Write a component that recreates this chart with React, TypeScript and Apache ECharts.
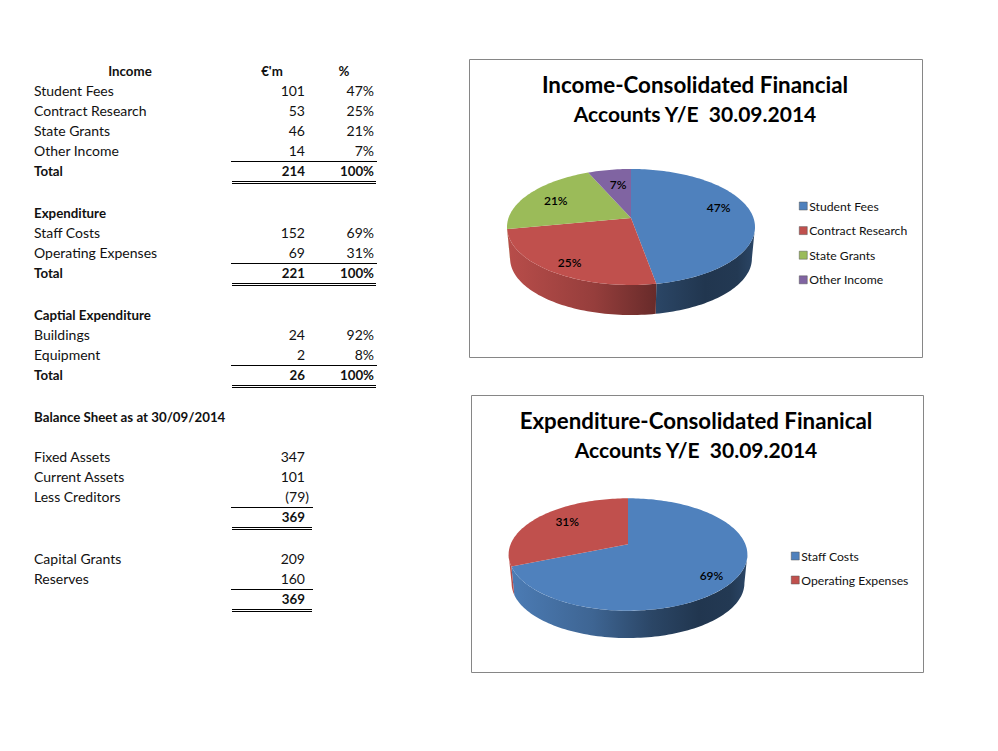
import React, { useEffect, useRef } from "react";
import * as echarts from "echarts";

// ---------- data ----------
const incomeNames = ["Student Fees", "Contract Research", "State Grants", "Other Income"];
const incomeValues = [101, 53, 46, 14];
const incomePercents = ["47%", "25%", "21%", "7%"];
const incomeColors = ["#4f81bd", "#c0504d", "#9bbb59", "#8064a2"];

const expenditureNames = ["Staff Costs", "Operating Expenses"];
const expenditureValues = [152, 69];
const expenditurePercents = ["69%", "31%"];
const expenditureColors = ["#4f81bd", "#c0504d"];

const incomeTitleLines = ["Income-Consolidated Financial", "Accounts Y/E  30.09.2014"];
const expenditureTitleLines = ["Expenditure-Consolidated Finanical", "Accounts Y/E  30.09.2014"];

// label, amount, percent, row y, style: b = bold
const tableRows: [string, string, string, number, boolean][] = [
  ["Student Fees", "101", "47%", 91, false],
  ["Contract Research", "53", "25%", 111, false],
  ["State Grants", "46", "21%", 131, false],
  ["Other Income", "14", "7%", 151, false],
  ["Total", "214", "100%", 171, true],
  ["Expenditure", "", "", 213, true],
  ["Staff Costs", "152", "69%", 233, false],
  ["Operating Expenses", "69", "31%", 253, false],
  ["Total", "221", "100%", 273, true],
  ["Captial Expenditure", "", "", 315, true],
  ["Buildings", "24", "92%", 335, false],
  ["Equipment", "2", "8%", 355, false],
  ["Total", "26", "100%", 375, true],
  ["Balance Sheet as at 30/09/2014", "", "", 417, true],
  ["Fixed Assets", "347", "", 457, false],
  ["Current Assets", "101", "", 477, false],
  ["Less Creditors", "(79)", "", 497, false],
  ["", "369", "", 517, true],
  ["Capital Grants", "209", "", 559, false],
  ["Reserves", "160", "", 579, false],
  ["", "369", "", 599, true],
];
const singleRules: [number, number, number][] = [
  [161, 231, 377], [263, 231, 377], [365, 231, 377], [507, 231, 313], [589, 231, 313],
];
const doubleRules: [number, number, number][] = [
  [181, 232, 376], [283, 232, 376], [385, 232, 376], [527, 232, 312], [609, 232, 312],
];

// ---------- 3D pie geometry ----------
interface Pie3D {
  cx: number; cy: number; w: number; a: number; c: number; depth: number; inset: number;
}
const pie1: Pie3D = { cx: 631, cy: 218, w: 122.5, a: 56.6, c: -0.155, depth: 31.7, inset: 0.975 };
const pie2: Pie3D = { cx: 628, cy: 544.3, w: 117.4, a: 54.35, c: -0.1815, depth: 29, inset: 0.975 };
const incomeNudges: [number, number][] = [[3, -7], [-8, 9], [-3, 0], [3, 2]];
const expenditureNudges: [number, number][] = [[10, 8], [3, -3]];

const project = (p: Pie3D, deg: number, r = 1, base = false) => {
  const t = (deg * Math.PI) / 180;
  const X = Math.sin(t) * r;
  const Y = -Math.cos(t) * r;
  const d = 1 + p.c * Y;
  const s = base ? p.inset : 1;
  return [p.cx + (s * p.w * X) / d, p.cy + (base ? p.depth : 0) + (s * p.a * Y) / d];
};

const shade = (hex: string, f: number) => {
  const n = parseInt(hex.slice(1), 16);
  const ch = (v: number) => Math.round(v * f);
  return `rgb(${ch((n >> 16) & 255)},${ch((n >> 8) & 255)},${ch(n & 255)})`;
};

const arc = (from: number, to: number) => {
  const out: number[] = [];
  const steps = Math.max(2, Math.ceil(Math.abs(to - from) / 1.5));
  for (let i = 0; i <= steps; i++) out.push(from + ((to - from) * i) / steps);
  return out;
};

const sliceSeries = (
  names: string[], values: number[], percents: string[], colors: string[],
  p: Pie3D, nudges: [number, number][],
) => {
  const total = values.reduce((s, v) => s + v, 0);
  let cum = 0;
  return names.map((name, i) => {
    const start = (cum / total) * 360;
    cum += values[i];
    const end = (cum / total) * 360;
    const color = colors[i];
    return {
      type: "custom",
      name,
      coordinateSystem: "none",
      silent: true,
      itemStyle: { color },
      data: [[values[i]]],
      renderItem: () => {
        const children: any[] = [];
        const frontFrom = (Math.acos(p.c) * 180) / Math.PI;
        const wallFrom = Math.max(start, frontFrom);
        const wallTo = Math.min(end, 360 - frontFrom);
        if (wallTo > wallFrom) {
          const degs = arc(wallFrom, wallTo);
          const pts = [
            ...degs.map((d) => project(p, d)),
            ...degs.slice().reverse().map((d) => project(p, d, 1, true)),
          ];
          const left = p.cx - p.w * 1.01;
          const right = p.cx + p.w * 1.01;
          children.push({
            type: "polygon",
            shape: { points: pts },
            style: {
              fill: new echarts.graphic.LinearGradient(left, 0, right, 0, [
                { offset: 0, color: shade(color, 0.96) },
                { offset: 0.35, color: shade(color, 0.78) },
                { offset: 0.6, color: shade(color, 0.54) },
                { offset: 0.8, color: shade(color, 0.42) },
                { offset: 0.93, color: shade(color, 0.44) },
                { offset: 1, color: shade(color, 0.54) },
              ], true),
            },
          });
        }
        const top = [[p.cx, p.cy], ...arc(start, end).map((d) => project(p, d))];
        children.push({ type: "polygon", shape: { points: top }, style: { fill: color } });
        const mid = project(p, (start + end) / 2, 0.7);
        children.push({
          type: "text",
          z2: 10,
          style: {
            text: percents[i],
            x: mid[0] + nudges[i][0],
            y: mid[1] + nudges[i][1],
            align: "center",
            verticalAlign: "middle",
            fill: "#000",
            fontFamily: "Lato",
            fontWeight: 600,
            fontSize: 12,
          },
        });
        return { type: "group", children };
      },
    };
  });
};

// ---------- page graphics ----------
const FONT = "Lato";
const text = (t: string, x: number, y: number, align: string, bold: boolean) => ({
  type: "text",
  silent: true,
  style: {
    text: t, x, y: bold ? y : y - 0.7, align, verticalAlign: "middle", fill: "#111",
    fontFamily: FONT, fontSize: bold ? 13.3 : 14, fontWeight: bold ? "bold" : "normal",
  },
});
const rule = (y: number, x1: number, x2: number) => ({
  type: "line",
  silent: true,
  shape: { x1, y1: y + 0.5, x2, y2: y + 0.5 },
  style: { stroke: "#000", lineWidth: 1 },
});
const box = (x: number, y: number, width: number, height: number) => ({
  type: "rect",
  silent: true,
  z: -1,
  shape: { x: x + 0.5, y: y + 0.5, width, height },
  style: { fill: "#fff", stroke: "#868686", lineWidth: 1 },
});

const buildElements = () => {
  const els: any[] = [box(469, 59, 453, 298), box(471, 395, 452, 277)];
  els.push(text("Income", 130, 71, "center", true));
  els.push(text("€'m", 272, 71, "center", true));
  els.push(text("%", 344, 71, "center", true));
  for (const [label, amount, pct, y, bold] of tableRows) {
    if (label) els.push(text(label, 34, y, "left", bold));
    if (amount) els.push(text(amount, amount.startsWith("(") ? 309 : 305, y, "right", bold));
    if (pct) els.push(text(pct, 374, y, "right", bold));
  }
  for (const [y, a, b] of singleRules) els.push(rule(y, a, b));
  for (const [y, a, b] of doubleRules) {
    els.push(rule(y, a, b));
    els.push(rule(y + 2, a, b));
  }
  return els;
};

const legendText = { fontFamily: FONT, fontSize: 12.2, color: "#111", padding: [0, 0, 0, -3] };
const titleRich = (size1: number) => ({
  fontFamily: FONT,
  fontWeight: "bold",
  color: "#000",
  rich: {
    a: { fontFamily: FONT, fontWeight: "bold", fontSize: size1, lineHeight: 29, color: "#000" },
    b: { fontFamily: FONT, fontWeight: "bold", fontSize: 21, lineHeight: 29, color: "#000" },
  },
});
const titleText = (lines: string[]) => `{a|${lines[0]}}\n{b|${lines[1]}}`;

export default function App() {
  const ref = useRef<HTMLDivElement>(null);
  useEffect(() => {
    document.body.style.margin = "0";
    document.body.style.background = "#fff";
    const chart = echarts.init(ref.current!, undefined, { renderer: "svg" });
    chart.setOption({
      animation: false,
      backgroundColor: "#fff",
      title: [
        { text: titleText(incomeTitleLines), left: 690, top: 65, textAlign: "center", textStyle: titleRich(22.4) },
        { text: titleText(expenditureTitleLines), left: 691, top: 401, textAlign: "center", textStyle: titleRich(22.3) },
      ],
      legend: [
        {
          data: incomeNames, orient: "vertical", left: 799, top: 200, itemWidth: 8, itemHeight: 8,
          itemGap: 12.6, selectedMode: false, icon: "rect", padding: 0,
          itemStyle: { borderColor: "#555", borderWidth: 0.5 },
          lineStyle: { width: 0 }, textStyle: legendText,
        },
        {
          data: expenditureNames, orient: "vertical", left: 791, top: 550, itemWidth: 8, itemHeight: 8,
          itemGap: 12, selectedMode: false, icon: "rect", padding: 0,
          itemStyle: { borderColor: "#555", borderWidth: 0.5 },
          lineStyle: { width: 0 }, textStyle: legendText,
        },
      ],
      graphic: { elements: buildElements() },
      series: [
        ...sliceSeries(incomeNames, incomeValues, incomePercents, incomeColors, pie1, incomeNudges),
        ...sliceSeries(expenditureNames, expenditureValues, expenditurePercents, expenditureColors, pie2, expenditureNudges),
      ],
    });
    return () => chart.dispose();
  }, []);
  return <div ref={ref} style={{ position: "absolute", left: 0, top: 0, width: 998, height: 751 }} />;
}
